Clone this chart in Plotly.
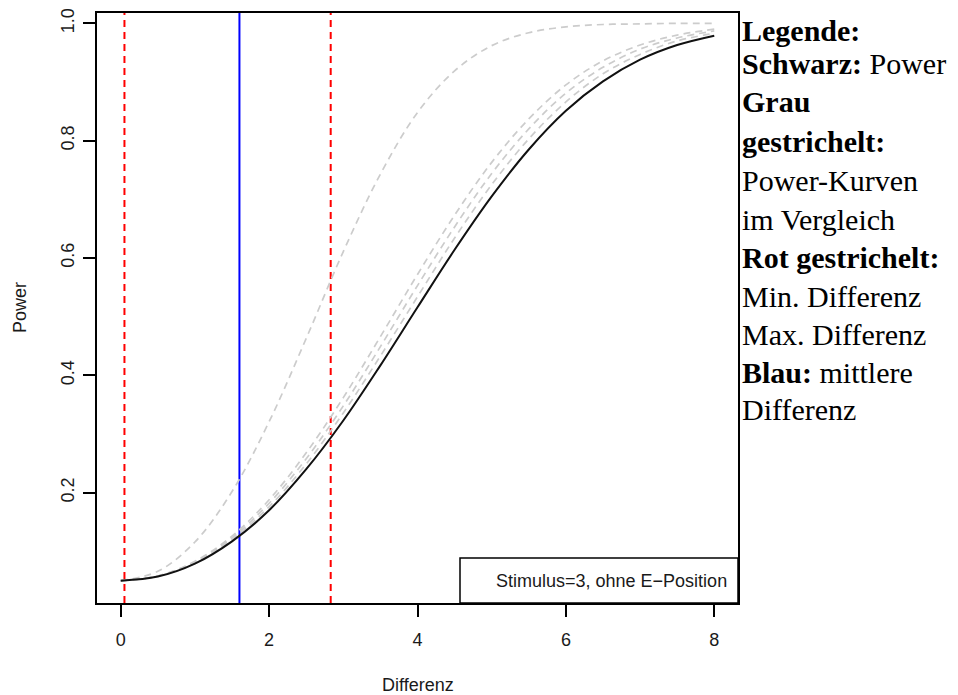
import plotly.graph_objects as go

# ---------------- data ----------------
differenz = [0.0, 0.5, 1.0, 1.5, 2.0, 2.5, 3.0, 3.5, 4.0, 4.5, 5.0, 5.5, 6.0, 6.5, 7.0, 7.5, 8.0]

power_main = [0.050, 0.057, 0.079, 0.117, 0.170, 0.240, 0.323, 0.417, 0.516,
              0.614, 0.705, 0.785, 0.851, 0.901, 0.938, 0.963, 0.979]

power_cmp_1 = [0.050, 0.058, 0.080, 0.120, 0.176, 0.249, 0.336, 0.433, 0.534,
               0.634, 0.725, 0.803, 0.866, 0.914, 0.947, 0.970, 0.983]
power_cmp_2 = [0.050, 0.058, 0.082, 0.123, 0.182, 0.258, 0.348, 0.449, 0.553,
               0.653, 0.744, 0.820, 0.881, 0.925, 0.956, 0.975, 0.987]
power_cmp_3 = [0.050, 0.058, 0.083, 0.126, 0.188, 0.268, 0.362, 0.466, 0.572,
               0.673, 0.763, 0.837, 0.895, 0.936, 0.963, 0.980, 0.990]
power_cmp_4 = [0.050, 0.066, 0.116, 0.202, 0.321, 0.463, 0.611, 0.743, 0.848,
               0.919, 0.962, 0.984, 0.994, 0.998, 0.999, 1.000, 1.000]
comparison_curves = [power_cmp_1, power_cmp_2, power_cmp_3, power_cmp_4]

min_diff = 0.05
max_diff = 2.83
mean_diff = 1.6

x_ticks = [0, 2, 4, 6, 8]
x_tick_labels = ["0", "2", "4", "6", "8"]
y_ticks = [0.2, 0.4, 0.6, 0.8, 1.0]
y_tick_labels = ["0.2", "0.4", "0.6", "0.8", "1.0"]

x_title = "Differenz"
y_title = "Power"
box_label = "Stimulus=3, ohne E\u2212Position"

legend_lines = [
    "<b>Legende:</b>",
    "<b>Schwarz:</b> Power",
    "<b>Grau</b>",
    "<b>gestrichelt:</b>",
    "Power-Kurven",
    "im Vergleich",
    "<b>Rot gestrichelt:</b>",
    "Min. Differenz",
    "Max. Differenz",
    "<b>Blau:</b> mittlere",
    "Differenz",
]

# ---------------- layout geometry ----------------
OFF = 8                      # default page body margin
W, H = 958 - OFF, 695 - OFF  # figure size so it fits in the window
# plot area in window pixels: left 97, right 738, top 13, bottom 603
ML = 97 - OFF
MT = 13 - OFF
MR = W - (738 - OFF)
MB = H - (603 - OFF)
plot_w = W - ML - MR
plot_h = H - MT - MB


def px_x(wx):
    return (wx - OFF - ML) / plot_w


def px_y(wy):
    return (H - MB - (wy - OFF)) / plot_h


fig = go.Figure()

for curve in comparison_curves:
    fig.add_trace(go.Scatter(
        x=differenz, y=curve, mode="lines", line_shape="spline",
        line=dict(color="#cccccc", width=1.7, dash="7px,5px"),
        hoverinfo="skip", showlegend=False))

fig.add_trace(go.Scatter(
    x=differenz, y=power_main, mode="lines", line_shape="spline",
    line=dict(color="#111111", width=2),
    showlegend=False))

shapes = []
for xv, col, dash in [(min_diff, "#ff0000", "7px,5px"),
                      (max_diff, "#ff0000", "7px,5px"),
                      (mean_diff, "#0000ff", "solid")]:
    shapes.append(dict(type="line", xref="x", yref="y domain",
                       x0=xv, x1=xv, y0=0, y1=1, layer="below",
                       line=dict(color=col, width=2, dash=dash)))

# legend box in the lower right
shapes.append(dict(type="rect", xref="x domain", yref="y domain",
                   x0=px_x(460), x1=1.0, y0=0.0, y1=px_y(558), layer="above",
                   fillcolor="white", line=dict(color="black", width=1.5)))

sans = "Liberation Sans, Arial"
annotations = [
    dict(text=box_label, xref="paper", yref="paper", x=px_x(729), y=px_y(581),
         xanchor="right", yanchor="middle", showarrow=False,
         font=dict(family=sans, size=18, color="#1a1a1a")),
    dict(text=x_title, xref="paper", yref="paper", x=0.5, y=px_y(685),
         xanchor="center", yanchor="middle", showarrow=False,
         font=dict(family=sans, size=18, color="#1a1a1a")),
    dict(text=y_title, xref="paper", yref="paper", x=px_x(20), y=0.5,
         xanchor="center", yanchor="middle", showarrow=False, textangle=-90,
         font=dict(family=sans, size=18, color="#1a1a1a")),
]

line_centers = [31, 64, 102, 141, 181, 219, 257, 296, 334, 372, 409]
for txt, cy in zip(legend_lines, line_centers):
    annotations.append(dict(
        text=txt, xref="paper", yref="paper",
        x=px_x(740), y=px_y(cy),
        xanchor="left", yanchor="middle", showarrow=False,
        font=dict(family="Liberation Serif, Times New Roman, serif", size=30, color="black")))

fig.update_layout(
    width=W, height=H,
    margin=dict(l=ML, r=MR, t=MT, b=MB, autoexpand=False),
    paper_bgcolor="white", plot_bgcolor="white",
    shapes=shapes, annotations=annotations,
    showlegend=False,
)

axis_font = dict(family=sans, size=18, color="#1a1a1a")
fig.update_xaxes(range=[-0.32, 8.32], tickvals=x_ticks, ticktext=x_tick_labels,
                 showgrid=False, zeroline=False, showline=True, mirror=True,
                 linecolor="black", linewidth=1.5, ticks="outside", ticklen=12,
                 tickwidth=1.5, tickcolor="black", tickfont=axis_font,
                 ticklabelstandoff=8)
fig.update_yaxes(range=[0.012, 1.0176], tickvals=y_ticks, ticktext=y_tick_labels,
                 showgrid=False, zeroline=False, showline=True, mirror=True,
                 linecolor="black", linewidth=1.5, ticks="outside", ticklen=12,
                 tickwidth=1.5, tickcolor="black", tickfont=axis_font,
                 tickangle=-90, ticklabelstandoff=2)

fig.write_html("out.html")
